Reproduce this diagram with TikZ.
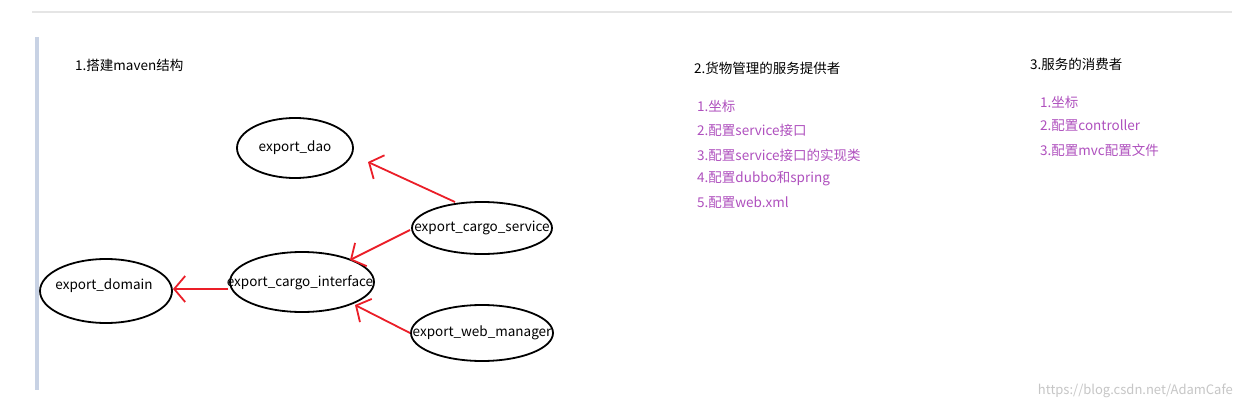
\documentclass[tikz,border=0pt]{standalone}
\usepackage{fontspec}
\setmainfont{Noto Sans CJK SC}
\usetikzlibrary{shapes.geometric,arrows.meta}
\definecolor{pur}{RGB}{175,80,190}
\definecolor{arr}{RGB}{235,30,40}
\definecolor{barc}{RGB}{200,210,228}
\begin{document}
\begin{tikzpicture}[x=1pt,y=-1pt,
  ell/.style={draw,ellipse,line width=1.8pt,inner sep=0pt},
  lbl/.style={font=\fontsize{13.5}{15}\selectfont,inner sep=0pt},
  dep/.style={draw=arr,line width=1.8pt,-{Straight Barb[length=11pt,width=26pt,line width=1.8pt]}},
  ttl/.style={font=\fontsize{13.5}{15}\selectfont,anchor=west,inner sep=0pt},
  itm/.style={font=\fontsize{13.5}{15}\selectfont,anchor=west,inner sep=0pt,text=pur}]
\useasboundingbox (0,0) rectangle (1236,409);
\fill[white] (0,0) rectangle (1236,409);
\draw[gray!20,line width=1.2pt] (32,12) -- (1232,12);
\fill[barc] (35,37) rectangle (39,390);
\node[ttl] (t1) at (75,65) {1.搭建maven结构};
\node[ell,minimum width=116pt,minimum height=60pt] (dao) at (295,148) {};
\node[lbl] at (dao) {export\_dao};
\node[ell,minimum width=140pt,minimum height=52pt] (svc) at (482,228) {};
\node[lbl] at (svc) {export\_cargo\_service};
\node[ell,minimum width=144pt,minimum height=60pt] (itf) at (302,282) {};
\node[lbl] at (300,283) {export\_cargo\_interface};
\node[ell,minimum width=132pt,minimum height=64pt] (dom) at (106,291) {};
\node[lbl] at (104,286) {export\_domain};
\node[ell,minimum width=142pt,minimum height=56pt] (web) at (482,333) {};
\node[lbl] at (482,333) {export\_web\_manager};
\coordinate (s1) at (455,202);
\coordinate (d1) at (368,162);
\coordinate (s2) at (410,230);
\coordinate (i1) at (350,260);
\coordinate (i2) at (228,289);
\coordinate (m1) at (173,289);
\coordinate (w1) at (410,333);
\coordinate (i3) at (355,305);
\draw[dep] (s1) -- (d1);
\draw[dep] (s2) -- (i1);
\draw[dep] (i2) -- (m1);
\draw[dep] (w1) -- (i3);
\node[ttl] (t2) at (694,68) {2.货物管理的服务提供者};
\node[itm] at (697,106) {1.坐标};
\node[itm] at (697,130) {2.配置service接口};
\node[itm] at (697,155) {3.配置service接口的实现类};
\node[itm] at (697,179) {4.配置dubbo和spring};
\node[itm] at (697,203) {5.配置web.xml};
\node[ttl] (t3) at (1030,64) {3.服务的消费者};
\node[itm] at (1040,102) {1.坐标};
\node[itm] at (1040,126) {2.配置controller};
\node[itm] at (1040,150) {3.配置mvc配置文件};
\node[anchor=east,inner sep=0pt,text=gray!45,font=\fontsize{13}{15}\selectfont] at (1233,391) {https://blog.csdn.net/AdamCafe};
\end{tikzpicture}
\end{document}
